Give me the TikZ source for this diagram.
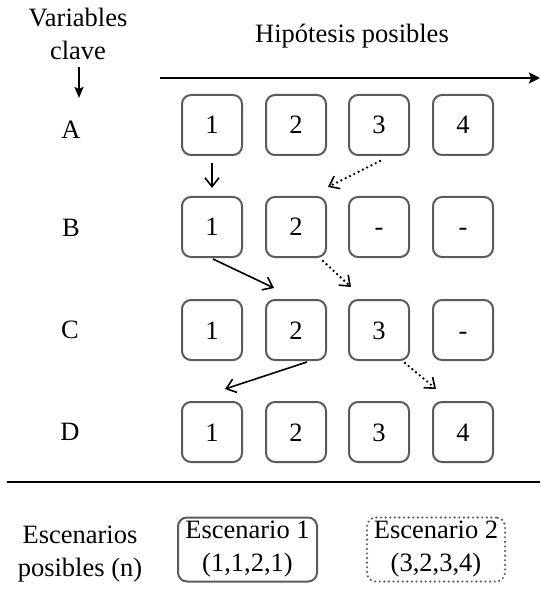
\documentclass[tikz,border=0pt]{standalone}
\usepackage{fontspec}
\setmainfont{Liberation Serif}
\usetikzlibrary{arrows.meta}
\definecolor{boxgray}{RGB}{88,92,98}
\begin{document}
\begin{tikzpicture}[x=1pt,y=-1pt,
  font=\fontsize{26.5}{33}\selectfont,
  hbox/.style={draw=boxgray,line width=2pt,rounded corners=9pt,
    minimum width=60pt,minimum height=60pt,inner sep=0pt,
    text height=18pt,text depth=0pt},
  rowlab/.style={inner sep=0pt},
  solidarrow/.style={line width=1.6pt,-{Straight Barb[length=9pt,width=14pt,line width=1.6pt]}},
  dotarrow/.style={line width=2.6pt,line cap=round,dash pattern=on 0pt off 4.8pt,
    -{Straight Barb[length=9pt,width=14pt,line width=1.6pt]}},
  scenbox/.style={draw=boxgray,line width=2pt,rounded corners=9pt,
    minimum height=64pt,inner sep=0pt,align=center}]
\useasboundingbox (0,0) rectangle (540,593);

% headings
\node[align=center,inner sep=0pt] (vk) at (78,34) {Variables\\clave};
\node[inner sep=0pt] (hp) at (352,36) {Hipótesis posibles};
\coordinate (vd) at (79,98);
\draw[line width=2pt,-{Stealth[length=11pt,width=9pt,inset=2pt]}] ([xshift=1pt,yshift=-7pt]vk.south) -- (vd);
\coordinate (h0) at (160,78);
\coordinate (h1) at (540,78);
\draw[line width=2.4pt,-{Stealth[length=11pt,width=11pt,inset=2pt]}] (h0) -- (h1);

% row labels
\node[rowlab] (la) at (71,130) {A};
\node[rowlab] (lb) at (71,228) {B};
\node[rowlab] (lc) at (70,330) {C};
\node[rowlab] (ld) at (70,432) {D};

% hypothesis boxes
\node[hbox] (a1) at (212,125) {1};
\node[hbox] (a2) at (296,125) {2};
\node[hbox] (a3) at (379,125) {3};
\node[hbox] (a4) at (463,125) {4};

\node[hbox] (b1) at (212,227) {1};
\node[hbox] (b2) at (296,227) {2};
\node[hbox] (b3) at (379,227) {-};
\node[hbox] (b4) at (463,227) {-};

\node[hbox] (c1) at (212,330) {1};
\node[hbox] (c2) at (296,330) {2};
\node[hbox] (c3) at (379,330) {3};
\node[hbox] (c4) at (463,330) {-};

\node[hbox] (d1) at (212,432) {1};
\node[hbox] (d2) at (296,432) {2};
\node[hbox] (d3) at (379,432) {3};
\node[hbox] (d4) at (463,432) {4};

% scenario 1 (solid) and scenario 2 (dotted)
\draw[solidarrow] ([yshift=-7pt]a1.south) -- ([yshift=8pt]b1.north);
\draw[solidarrow] ([xshift=1pt,yshift=-1pt]b1.south) -- ([xshift=9pt,yshift=11pt]c2.north west);
\draw[solidarrow] ([xshift=11pt,yshift=-1pt]c2.south) -- ([xshift=13pt,yshift=12pt]d1.north);

\draw[dotarrow] ([xshift=1pt,yshift=-5pt]a3.south) -- ([xshift=1pt,yshift=9pt]b2.north east);
\draw[dotarrow] ([xshift=-4pt,yshift=-3pt]b2.south east) -- ([xshift=3pt,yshift=12pt]c3.north west);
\draw[dotarrow] ([xshift=-5pt,yshift=-2pt]c3.south east) -- ([xshift=4pt,yshift=12pt]d4.north west);

% separator
\coordinate (s0) at (7,482);
\coordinate (s1) at (540,482);
\draw[line width=2.5pt] (s0) -- (s1);

% scenarios
\node[align=center,inner sep=0pt] (en) at (80,554) {Escenarios\\posibles (n)};
\node[scenbox,minimum width=139pt] (e1) at (247.5,549.5) {Escenario 1\\(1,1,2,1)};
\node[scenbox,minimum width=138pt,line width=2.4pt,line cap=round,dash pattern=on 0pt off 4.6pt] (e2) at (436,549.5) {Escenario 2\\(3,2,3,4)};
\end{tikzpicture}
\end{document}
